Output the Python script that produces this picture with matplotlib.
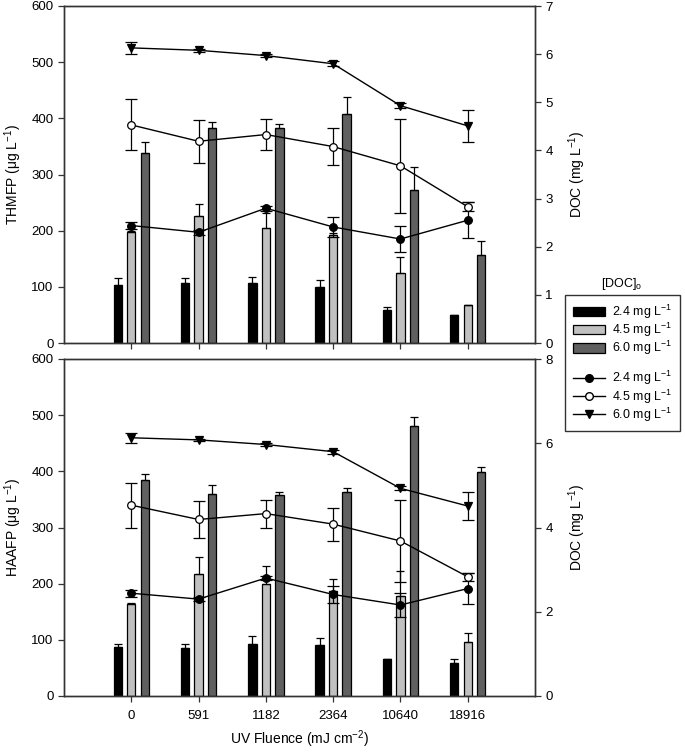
import matplotlib
matplotlib.use("Agg")
import matplotlib.pyplot as plt
import numpy as np
from matplotlib.patches import Patch
from matplotlib.lines import Line2D

plt.rcParams['font.family'] = ['Liberation Sans', 'DejaVu Sans']
plt.rcParams['mathtext.default'] = 'regular'

fluence = ['0', '591', '1182', '2364', '10640', '18916']

thm_24 = [103, 106, 106, 100, 59, 50]
thm_24_err = [12, 10, 12, 13, 5, 0]
thm_45 = [197, 226, 205, 192, 124, 68]
thm_45_err = [3, 21, 26, 3, 30, 0]
thm_60 = [339, 382, 382, 407, 272, 157]
thm_60_err = [18, 12, 8, 31, 41, 25]

haa_24 = [88, 86, 92, 90, 65, 58]
haa_24_err = [5, 6, 15, 13, 0, 7]
haa_45 = [163, 217, 199, 187, 178, 97]
haa_45_err = [3, 31, 33, 22, 45, 16]
haa_60 = [384, 360, 357, 364, 481, 399]
haa_60_err = [12, 16, 6, 6, 16, 9]

doc_24 = [2.44, 2.30, 2.80, 2.41, 2.16, 2.55]
doc_24_err = [0.08, 0.05, 0.05, 0.20, 0.28, 0.37]
doc_45 = [4.53, 4.19, 4.33, 4.08, 3.68, 2.83]
doc_45_err = [0.53, 0.45, 0.33, 0.39, 0.98, 0.09]
doc_60 = [6.13, 6.08, 5.97, 5.80, 4.93, 4.51]
doc_60_err = [0.12, 0.03, 0.03, 0.05, 0.05, 0.34]

labels = ['2.4 mg L$^{-1}$', '4.5 mg L$^{-1}$', '6.0 mg L$^{-1}$']
bar_colors = ['#000000', '#c0c0c0', '#606060']

W, H = 685, 753
fig = plt.figure(figsize=(W / 100, H / 100), dpi=100)

x = np.arange(len(fluence))
bw = 0.125
offs = [-0.2, 0.0, 0.2]
fs = 9.5
lfs = 10
spine_c = '#333333'


def panel(rect, bars, bar_errs, ylabel, rmax, rstep, show_xlabels):
    ax = fig.add_axes(rect)
    for k, (vals, errs) in enumerate(zip(bars, bar_errs)):
        ax.bar(x + offs[k], vals, bw, color=bar_colors[k], edgecolor='black',
               linewidth=0.9, zorder=2)
        ax.errorbar(x + offs[k], vals, yerr=[np.zeros(len(errs)), errs], fmt='none',
                    ecolor='black', elinewidth=0.9, capsize=3, capthick=0.9, zorder=3)
    ax.set_xlim(-1, 6)
    ax.set_ylim(0, 600)
    ax.set_yticks(np.arange(0, 601, 100))
    ax.set_xticks(x)
    if show_xlabels:
        ax.set_xticklabels(fluence)
    else:
        ax.set_xticklabels([])
    ax.set_ylabel(ylabel, fontsize=lfs, labelpad=5)
    ax.tick_params(labelsize=fs, direction='out', length=4, width=0.9, color=spine_c)
    ax.tick_params(axis='x', pad=6)
    for s in ax.spines.values():
        s.set_color(spine_c)
        s.set_linewidth(1.0)

    ax2 = ax.twinx()
    styles = [dict(marker='o', mfc='black', mec='black'),
              dict(marker='o', mfc='white', mec='black'),
              dict(marker='v', mfc='black', mec='black')]
    for vals, errs, st in zip([doc_24, doc_45, doc_60],
                              [doc_24_err, doc_45_err, doc_60_err], styles):
        ax2.errorbar(x, vals, yerr=errs, color='black', linewidth=1.0, ms=5.5,
                     mew=0.9, ecolor='black', elinewidth=0.9, capsize=4, capthick=0.9,
                     **st)
    ax2.set_ylim(0, rmax)
    ax2.set_yticks(np.arange(0, rmax + 0.01, rstep))
    ax2.set_ylabel('DOC (mg L$^{-1}$)', fontsize=lfs, labelpad=10)
    ax2.tick_params(labelsize=fs, direction='out', length=4, width=0.9, color=spine_c)
    for s in ax2.spines.values():
        s.set_color(spine_c)
        s.set_linewidth(1.0)
    return ax, ax2


left = 64 / W
width = (535 - 64) / W
top_rect = [left, 1 - 343 / H, width, (343 - 6) / H]
bot_rect = [left, 1 - 696 / H, width, (696 - 359) / H]

ax_t, ax_t2 = panel(top_rect, [thm_24, thm_45, thm_60], [thm_24_err, thm_45_err, thm_60_err],
                    'THMFP (μg L$^{-1}$)', 7, 1, False)
ax_b, ax_b2 = panel(bot_rect, [haa_24, haa_45, haa_60], [haa_24_err, haa_45_err, haa_60_err],
                    'HAAFP (μg L$^{-1}$)', 8, 2, True)
ax_b.set_xlabel('UV Fluence (mJ cm$^{-2}$)', fontsize=lfs, labelpad=5)

handles = [Patch(facecolor=c, edgecolor='black', linewidth=0.9) for c in bar_colors]
handles.append(Line2D([], [], linestyle='none'))
handles += [Line2D([], [], color='black', marker='o', mfc='black', mec='black', ms=5.5, lw=1),
            Line2D([], [], color='black', marker='o', mfc='white', mec='black', ms=5.5, lw=1),
            Line2D([], [], color='black', marker='v', mfc='black', mec='black', ms=5.5, lw=1)]
leg_labels = labels + [''] + labels
leg = fig.legend(handles, leg_labels, loc='upper left',
                 bbox_to_anchor=(565 / W, 1 - 295 / H), fontsize=9,
                 frameon=True, fancybox=False, edgecolor='black', handlelength=2.6,
                 handleheight=0.8, labelspacing=0.0, borderpad=0.6, handletextpad=0.6,
                 borderaxespad=0)
leg.get_frame().set_linewidth(1.0)
fig.text(622 / W, 1 - 284 / H, '[DOC]$_o$', ha='center', va='center', fontsize=9)

fig.savefig('out.png', dpi=100)
